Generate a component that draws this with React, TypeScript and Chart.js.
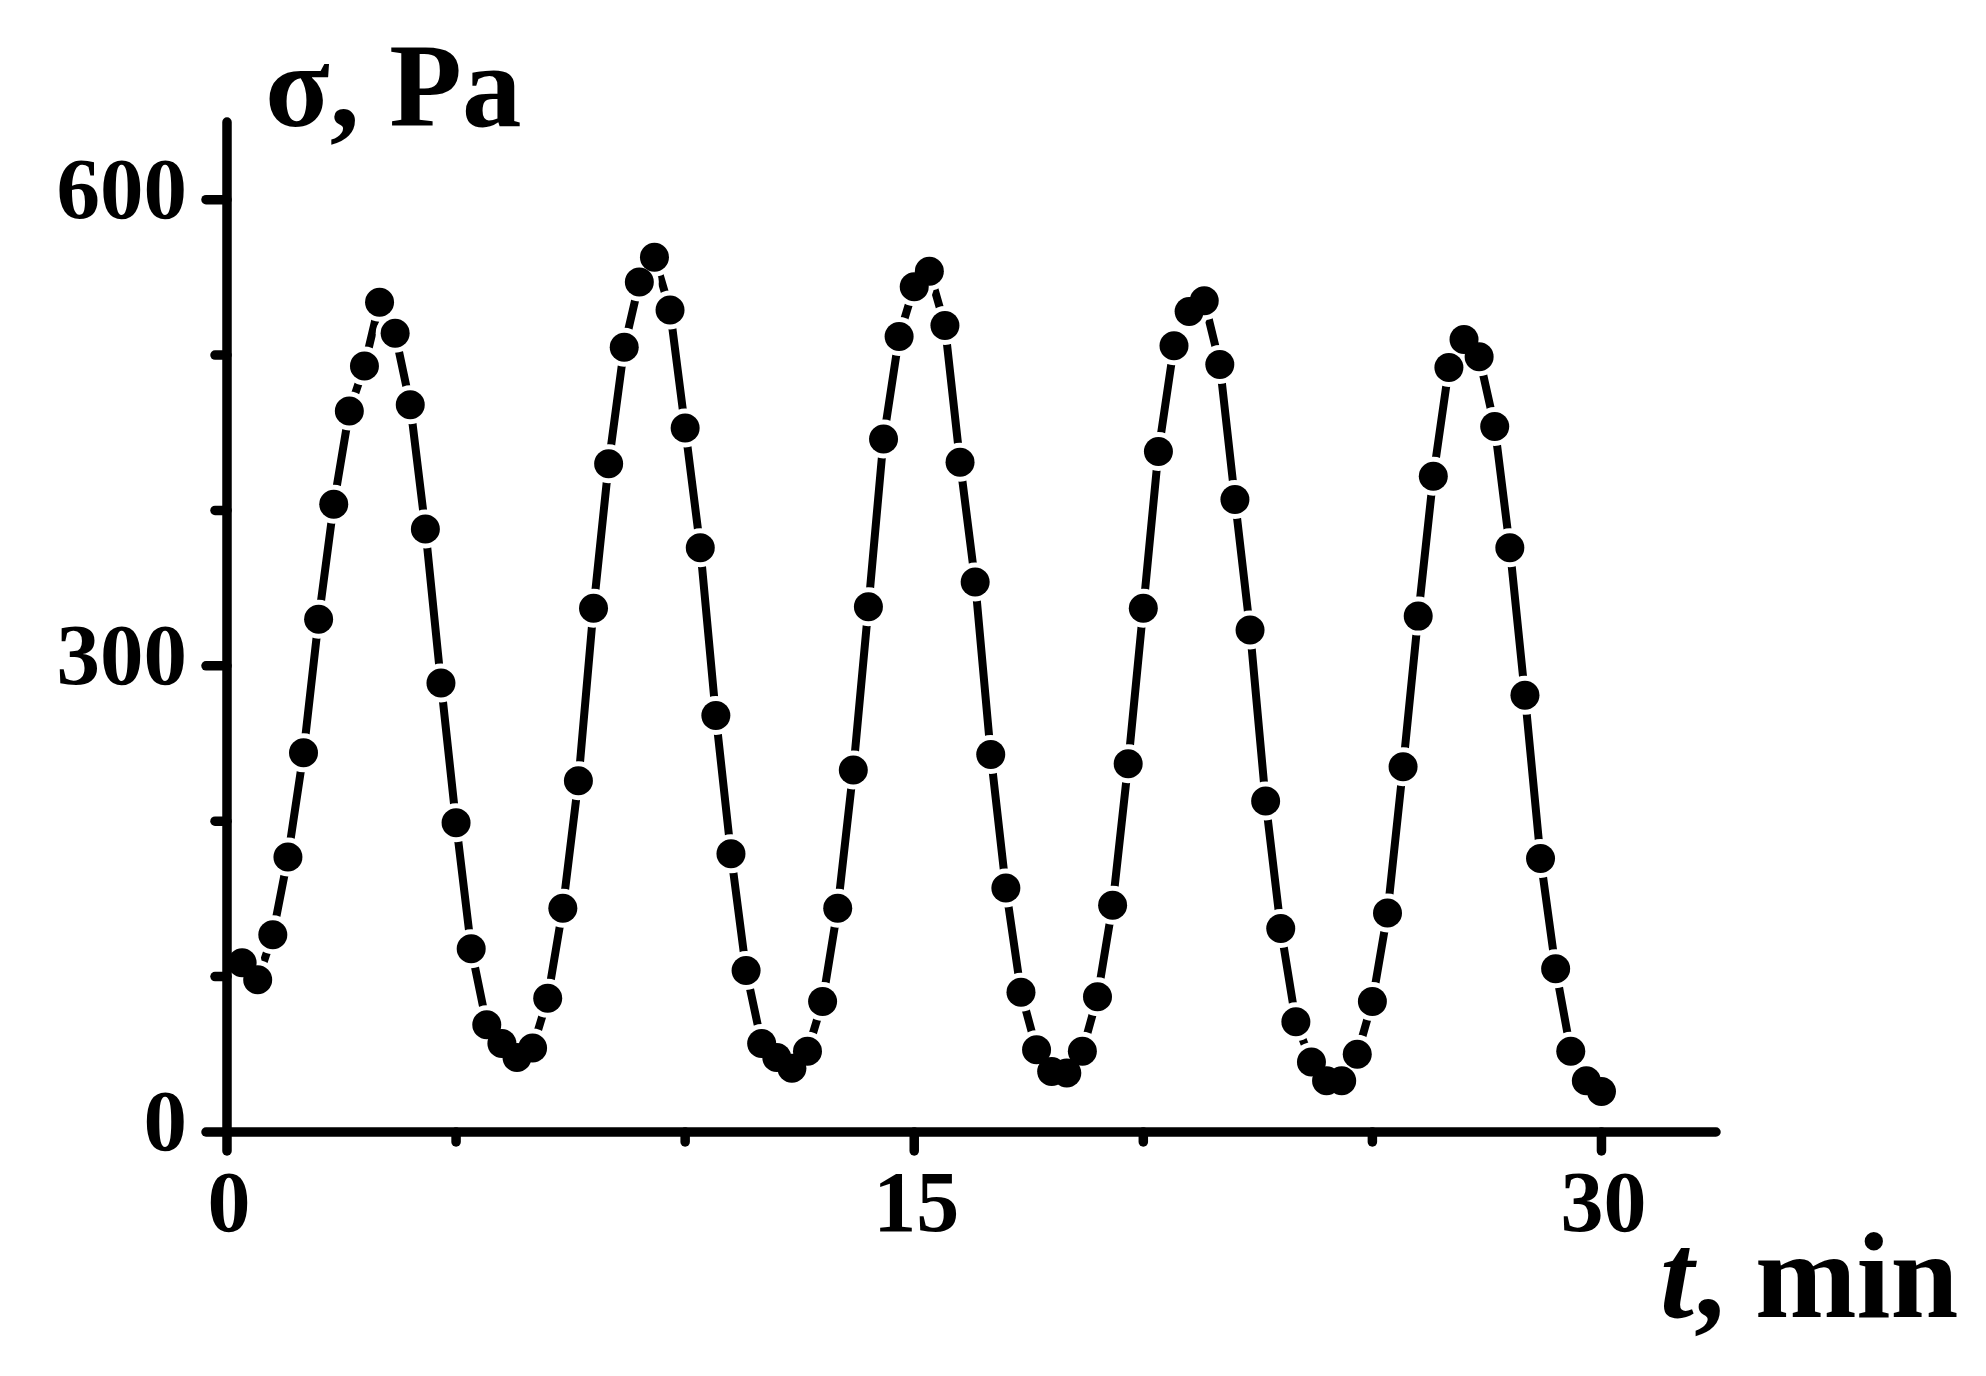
import React, { useEffect, useRef } from "react";
import { Chart, registerables } from "chart.js";

Chart.register(...registerables);

// time, min
const timeMin = [
  0.33, 0.67, 1.0, 1.33, 1.67, 2.0, 2.33, 2.67, 3.0, 3.33,
  3.67, 4.0, 4.33, 4.67, 5.0, 5.33, 5.67, 6.0, 6.33, 6.67,
  7.0, 7.33, 7.67, 8.0, 8.33, 8.67, 9.0, 9.33, 9.67, 10.0,
  10.33, 10.67, 11.0, 11.33, 11.67, 12.0, 12.33, 12.67, 13.0, 13.33,
  13.67, 14.0, 14.33, 14.67, 15.0, 15.33, 15.67, 16.0, 16.33, 16.67,
  17.0, 17.33, 17.67, 18.0, 18.33, 18.67, 19.0, 19.33, 19.67, 20.0,
  20.33, 20.67, 21.0, 21.33, 21.67, 22.0, 22.33, 22.67, 23.0, 23.33,
  23.67, 24.0, 24.33, 24.67, 25.0, 25.33, 25.67, 26.0, 26.33, 26.67,
  27.0, 27.33, 27.67, 28.0, 28.33, 28.67, 29.0, 29.33, 29.67, 30.0,
];

// stress sigma, Pa
const sigmaPa = [
  109, 98, 127, 177, 244, 330, 404, 464, 493, 534,
  514, 468, 388, 289, 199, 118, 69, 57, 48, 54,
  86, 144, 226, 337, 430, 505, 547, 563, 529, 453,
  376, 268, 179, 104, 57, 48, 41, 52, 84, 144,
  233, 338, 446, 512, 544, 554, 519, 431, 354, 243,
  157, 90, 53, 39, 38, 52, 87, 146, 237, 337,
  438, 506, 528, 535, 494, 407, 323, 213, 131, 71,
  45, 33, 33, 50, 84, 141, 235, 332, 422, 492,
  510, 499, 454, 376, 281, 176, 105, 52, 33, 26,
];

const xTickValues = [0, 5, 10, 15, 20, 25, 30];
const xTickLabels = [0, 15, 30];
const yTickValues = [0, 100, 200, 300, 400, 500, 600];
const yTickLabels = [0, 300, 600];

const X_MIN = 0;
const X_MAX = 32.5;
const Y_MIN = 0;
const Y_MAX = 650;

const yTitle = "σ, Pa";
const xTitleItalic = "t";
const xTitleRest = ", min";

const SERIF = '"Liberation Serif", "Times New Roman", serif';

const axesPlugin = {
  id: "customAxes",
  afterDatasetsDraw(chart: any) {
    const ctx = chart.ctx;
    const xs = chart.scales.x;
    const ys = chart.scales.y;
    const x0 = xs.getPixelForValue(X_MIN);
    const xEnd = xs.getPixelForValue(X_MAX);
    const y0 = ys.getPixelForValue(Y_MIN);
    const yEnd = ys.getPixelForValue(Y_MAX);
    ctx.save();
    ctx.strokeStyle = "#000";
    ctx.lineWidth = 9.5;
    ctx.lineCap = "round";
    ctx.beginPath();
    ctx.moveTo(x0, y0);
    ctx.lineTo(xEnd, y0);
    ctx.moveTo(x0, y0);
    ctx.lineTo(x0, yEnd);
    ctx.stroke();
    for (const v of xTickValues) {
      const px = xs.getPixelForValue(v);
      const len = xTickLabels.includes(v) ? 19 : 10;
      ctx.beginPath();
      ctx.moveTo(px, y0);
      ctx.lineTo(px, y0 + len);
      ctx.stroke();
    }
    for (const v of yTickValues) {
      const py = ys.getPixelForValue(v);
      const len = yTickLabels.includes(v) ? 21 : 12;
      ctx.beginPath();
      ctx.moveTo(x0, py);
      ctx.lineTo(x0 - len, py);
      ctx.stroke();
    }
    ctx.restore();
  },
  afterDraw(chart: any) {
    const ctx = chart.ctx;
    ctx.save();
    ctx.fillStyle = "#000";
    ctx.textBaseline = "alphabetic";
    ctx.textAlign = "left";
    ctx.font = `bold 119px ${SERIF}`;
    ctx.fillText(yTitle, 265, 126);
    let x = 1660;
    ctx.font = `italic bold 122px ${SERIF}`;
    ctx.fillText(xTitleItalic, x, 1317);
    x += ctx.measureText(xTitleItalic).width;
    ctx.font = `bold 122px ${SERIF}`;
    ctx.fillText(xTitleRest, x, 1317);
    ctx.restore();
  },
};

export default function App() {
  const canvasRef = useRef<HTMLCanvasElement | null>(null);

  useEffect(() => {
    const canvas = canvasRef.current;
    if (!canvas) return;
    const points = timeMin.map((t, i) => ({ x: t, y: sigmaPa[i] }));
    const chart = new Chart(canvas, {
      type: "scatter",
      data: {
        datasets: [
          {
            label: "dots",
            data: points,
            pointRadius: 14.5,
            pointHoverRadius: 14.5,
            pointBackgroundColor: "#000",
            pointBorderWidth: 0,
            showLine: false,
            order: 0,
            clip: false,
          },
          {
            label: "halo",
            data: points,
            pointRadius: 19.5,
            pointHoverRadius: 19.5,
            pointBackgroundColor: "#fff",
            pointBorderWidth: 0,
            showLine: false,
            order: 1,
            clip: false,
          },
          {
            label: "line",
            data: points,
            showLine: true,
            borderColor: "#000",
            borderWidth: 8,
            pointRadius: 0,
            tension: 0,
            order: 2,
            clip: false,
          },
        ],
      } as any,
      options: {
        animation: false,
        responsive: false,
        devicePixelRatio: 1,
        events: [],
        layout: { padding: { left: 0, right: 270, top: 122, bottom: 0 } },
        plugins: {
          legend: { display: false },
          tooltip: { enabled: false },
          title: { display: false },
        },
        scales: {
          x: {
            type: "linear",
            min: X_MIN,
            max: X_MAX,
            grid: { display: false, drawTicks: false },
            border: { display: false },
            afterBuildTicks: (scale: any) => {
              scale.ticks = xTickValues.map((v) => ({ value: v }));
            },
            afterFit: (scale: any) => {
              scale.height = 244;
            },
            ticks: {
              autoSkip: false,
              maxRotation: 0,
              minRotation: 0,
              padding: 25,
              labelOffset: 2,
              color: "#000",
              font: { family: SERIF, size: 86, weight: "bold", lineHeight: 1.2 },
              callback: (v: any) => (xTickLabels.includes(Number(v)) ? String(v) : ""),
            },
          },
          y: {
            type: "linear",
            min: Y_MIN,
            max: Y_MAX,
            grid: { display: false, drawTicks: false },
            border: { display: false },
            afterBuildTicks: (scale: any) => {
              scale.ticks = yTickValues.map((v) => ({ value: v }));
            },
            afterFit: (scale: any) => {
              scale.width = 227;
            },
            ticks: {
              autoSkip: false,
              padding: 40,
              labelOffset: -4,
              color: "#000",
              font: { family: SERIF, size: 87, weight: "bold", lineHeight: 1.2 },
              callback: (v: any) => (yTickLabels.includes(Number(v)) ? String(v) : ""),
            },
          },
        },
      } as any,
      plugins: [axesPlugin],
    });
    return () => chart.destroy();
  }, []);

  return (
    <div style={{ position: "absolute", left: 0, top: 0, width: 1986, height: 1376, background: "#fff" }}>
      <canvas ref={canvasRef} width={1986} height={1376} style={{ display: "block", width: 1986, height: 1376 }} />
    </div>
  );
}
